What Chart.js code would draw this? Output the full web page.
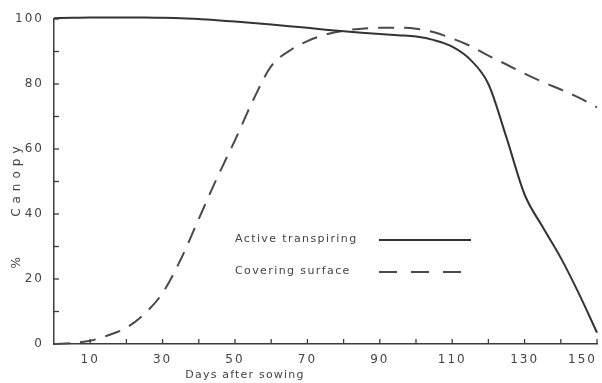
<!DOCTYPE html>
<html>
<head>
<meta charset="utf-8">
<script src="https://cdn.jsdelivr.net/npm/chart.js@4"></script>
<style>
  html, body { margin: 0; padding: 0; background: #fff; }
</style>
</head>
<body>
<canvas id="canopyChart" width="602" height="383"></canvas>
<script>
// days after sowing
const days = [0, 5, 10, 15, 20, 25, 30, 35, 40, 45, 50, 55, 60, 65, 70, 75,
              80, 85, 90, 95, 100, 105, 110, 115, 120, 125, 130, 135, 140, 145, 150];
// % canopy, active transpiring (solid)
const transpiring = [100.2, 100.4, 100.5, 100.5, 100.5, 100.5, 100.4, 100.2, 100, 99.6, 99.2, 98.8, 98.3, 97.8, 97.3, 96.7,
                     96.2, 95.8, 95.4, 95, 94.6, 93.5, 91.5, 87.5, 80, 63.5, 46, 36, 26.5, 15.5, 3.5];
// % canopy, covering surface (dashed)
const covering = [0, 0.3, 1, 2.7, 5, 9.3, 15.7, 26, 38.5, 51, 62.7, 75, 85.5, 90.2, 93.2, 95.2,
                  96.4, 97, 97.3, 97.3, 97, 95.9, 94, 91.7, 88.7, 86, 83.2, 80.6, 78.3, 75.8, 72.8];
// labelled ticks
const xLabels = [10, 30, 50, 70, 90, 110, 130, 150];
const yLabels = [0, 20, 40, 60, 80, 100];

const ink = '#3d3d3d';
const textInk = '#444';

// inner tick marks, axis titles and the in-plot legend
const decor = {
    id: 'decor',
    beforeDraw(chart) {
        // spaced-out digits like the typewriter labels
        chart.ctx.letterSpacing = '2px';
    },
    afterDraw(chart) {
        const ctx = chart.ctx;
        const x = chart.scales.x;
        const y = chart.scales.y;
        const area = chart.chartArea;

        ctx.save();
        ctx.strokeStyle = ink;
        ctx.lineWidth = 1.3;
        x.ticks.forEach(t => {
            if (t.value === 0) return;
            const px = x.getPixelForValue(t.value);
            ctx.beginPath();
            ctx.moveTo(px, area.bottom);
            ctx.lineTo(px, area.bottom - 5);
            ctx.stroke();
        });
        y.ticks.forEach(t => {
            if (t.value === 0) return;
            const py = y.getPixelForValue(t.value);
            ctx.beginPath();
            ctx.moveTo(area.left, py);
            ctx.lineTo(area.left + 5, py);
            ctx.stroke();
        });

        // axis titles
        ctx.fillStyle = textInk;
        ctx.textBaseline = 'middle';
        ctx.textAlign = 'center';
        ctx.font = '11px "DejaVu Sans"';
        ctx.letterSpacing = '1.2px';
        ctx.fillText('Days after sowing', 245, 375);

        ctx.save();
        ctx.translate(17, 205);
        ctx.rotate(-Math.PI / 2);
        ctx.font = '12px "DejaVu Sans"';
        ctx.letterSpacing = '5px';
        ctx.fillText('%    Canopy', 0, 0);
        ctx.restore();

        // legend
        ctx.font = '11px "DejaVu Sans"';
        ctx.letterSpacing = '1.4px';
        ctx.textAlign = 'left';
        const rows = [239, 271];
        chart.data.datasets.forEach((ds, i) => {
            const ry = rows[i];
            ctx.fillStyle = textInk;
            ctx.fillText(ds.label, 235, ry);
            ctx.strokeStyle = ds.borderColor;
            ctx.lineWidth = ds.borderWidth;
            ctx.setLineDash(ds.borderDash ? [18, 14] : []);
            ctx.beginPath();
            ctx.moveTo(379, ry + 1);
            ctx.lineTo(471, ry + 1);
            ctx.stroke();
        });
        ctx.restore();
        ctx.letterSpacing = '0px';
    }
};

new Chart(document.getElementById('canopyChart'), {
    type: 'line',
    data: {
        datasets: [
            {
                label: 'Active transpiring',
                data: days.map((d, i) => ({ x: d, y: transpiring[i] })),
                borderColor: '#333',
                borderWidth: 2,
                pointRadius: 0,
                cubicInterpolationMode: 'monotone',
                clip: false
            },
            {
                label: 'Covering surface',
                data: days.map((d, i) => ({ x: d, y: covering[i] })),
                borderColor: '#4a4a4a',
                borderWidth: 2,
                borderDash: [16, 10],
                pointRadius: 0,
                cubicInterpolationMode: 'monotone',
                clip: false
            }
        ]
    },
    options: {
        responsive: false,
        animation: false,
        layout: { padding: { top: 19, left: 0, right: 0, bottom: 0 } },
        plugins: {
            legend: { display: false },
            tooltip: { enabled: false }
        },
        scales: {
            x: {
                type: 'linear',
                min: 0,
                max: 150,
                grid: { display: false, drawTicks: false },
                border: { display: true, color: ink, width: 1.5 },
                ticks: {
                    stepSize: 10,
                    autoSkip: false,
                    maxRotation: 0,
                    align: 'inner',
                    padding: 9,
                    color: textInk,
                    font: { family: 'DejaVu Sans', size: 12 },
                    callback: v => xLabels.includes(v) ? String(v) : ''
                },
                afterFit: s => { s.height = 39; s.paddingRight = 5; s.paddingLeft = 0; }
            },
            y: {
                min: 0,
                max: 100,
                grid: { display: false, drawTicks: false },
                border: { display: true, color: ink, width: 1.5 },
                ticks: {
                    stepSize: 10,
                    autoSkip: false,
                    padding: 10,
                    color: textInk,
                    font: { family: 'DejaVu Sans', size: 12 },
                    callback: v => yLabels.includes(v) ? String(v) : ''
                },
                afterFit: s => { s.width = 54; s.paddingTop = 0; s.paddingBottom = 0; }
            }
        }
    },
    plugins: [decor]
});
</script>
</body>
</html>
